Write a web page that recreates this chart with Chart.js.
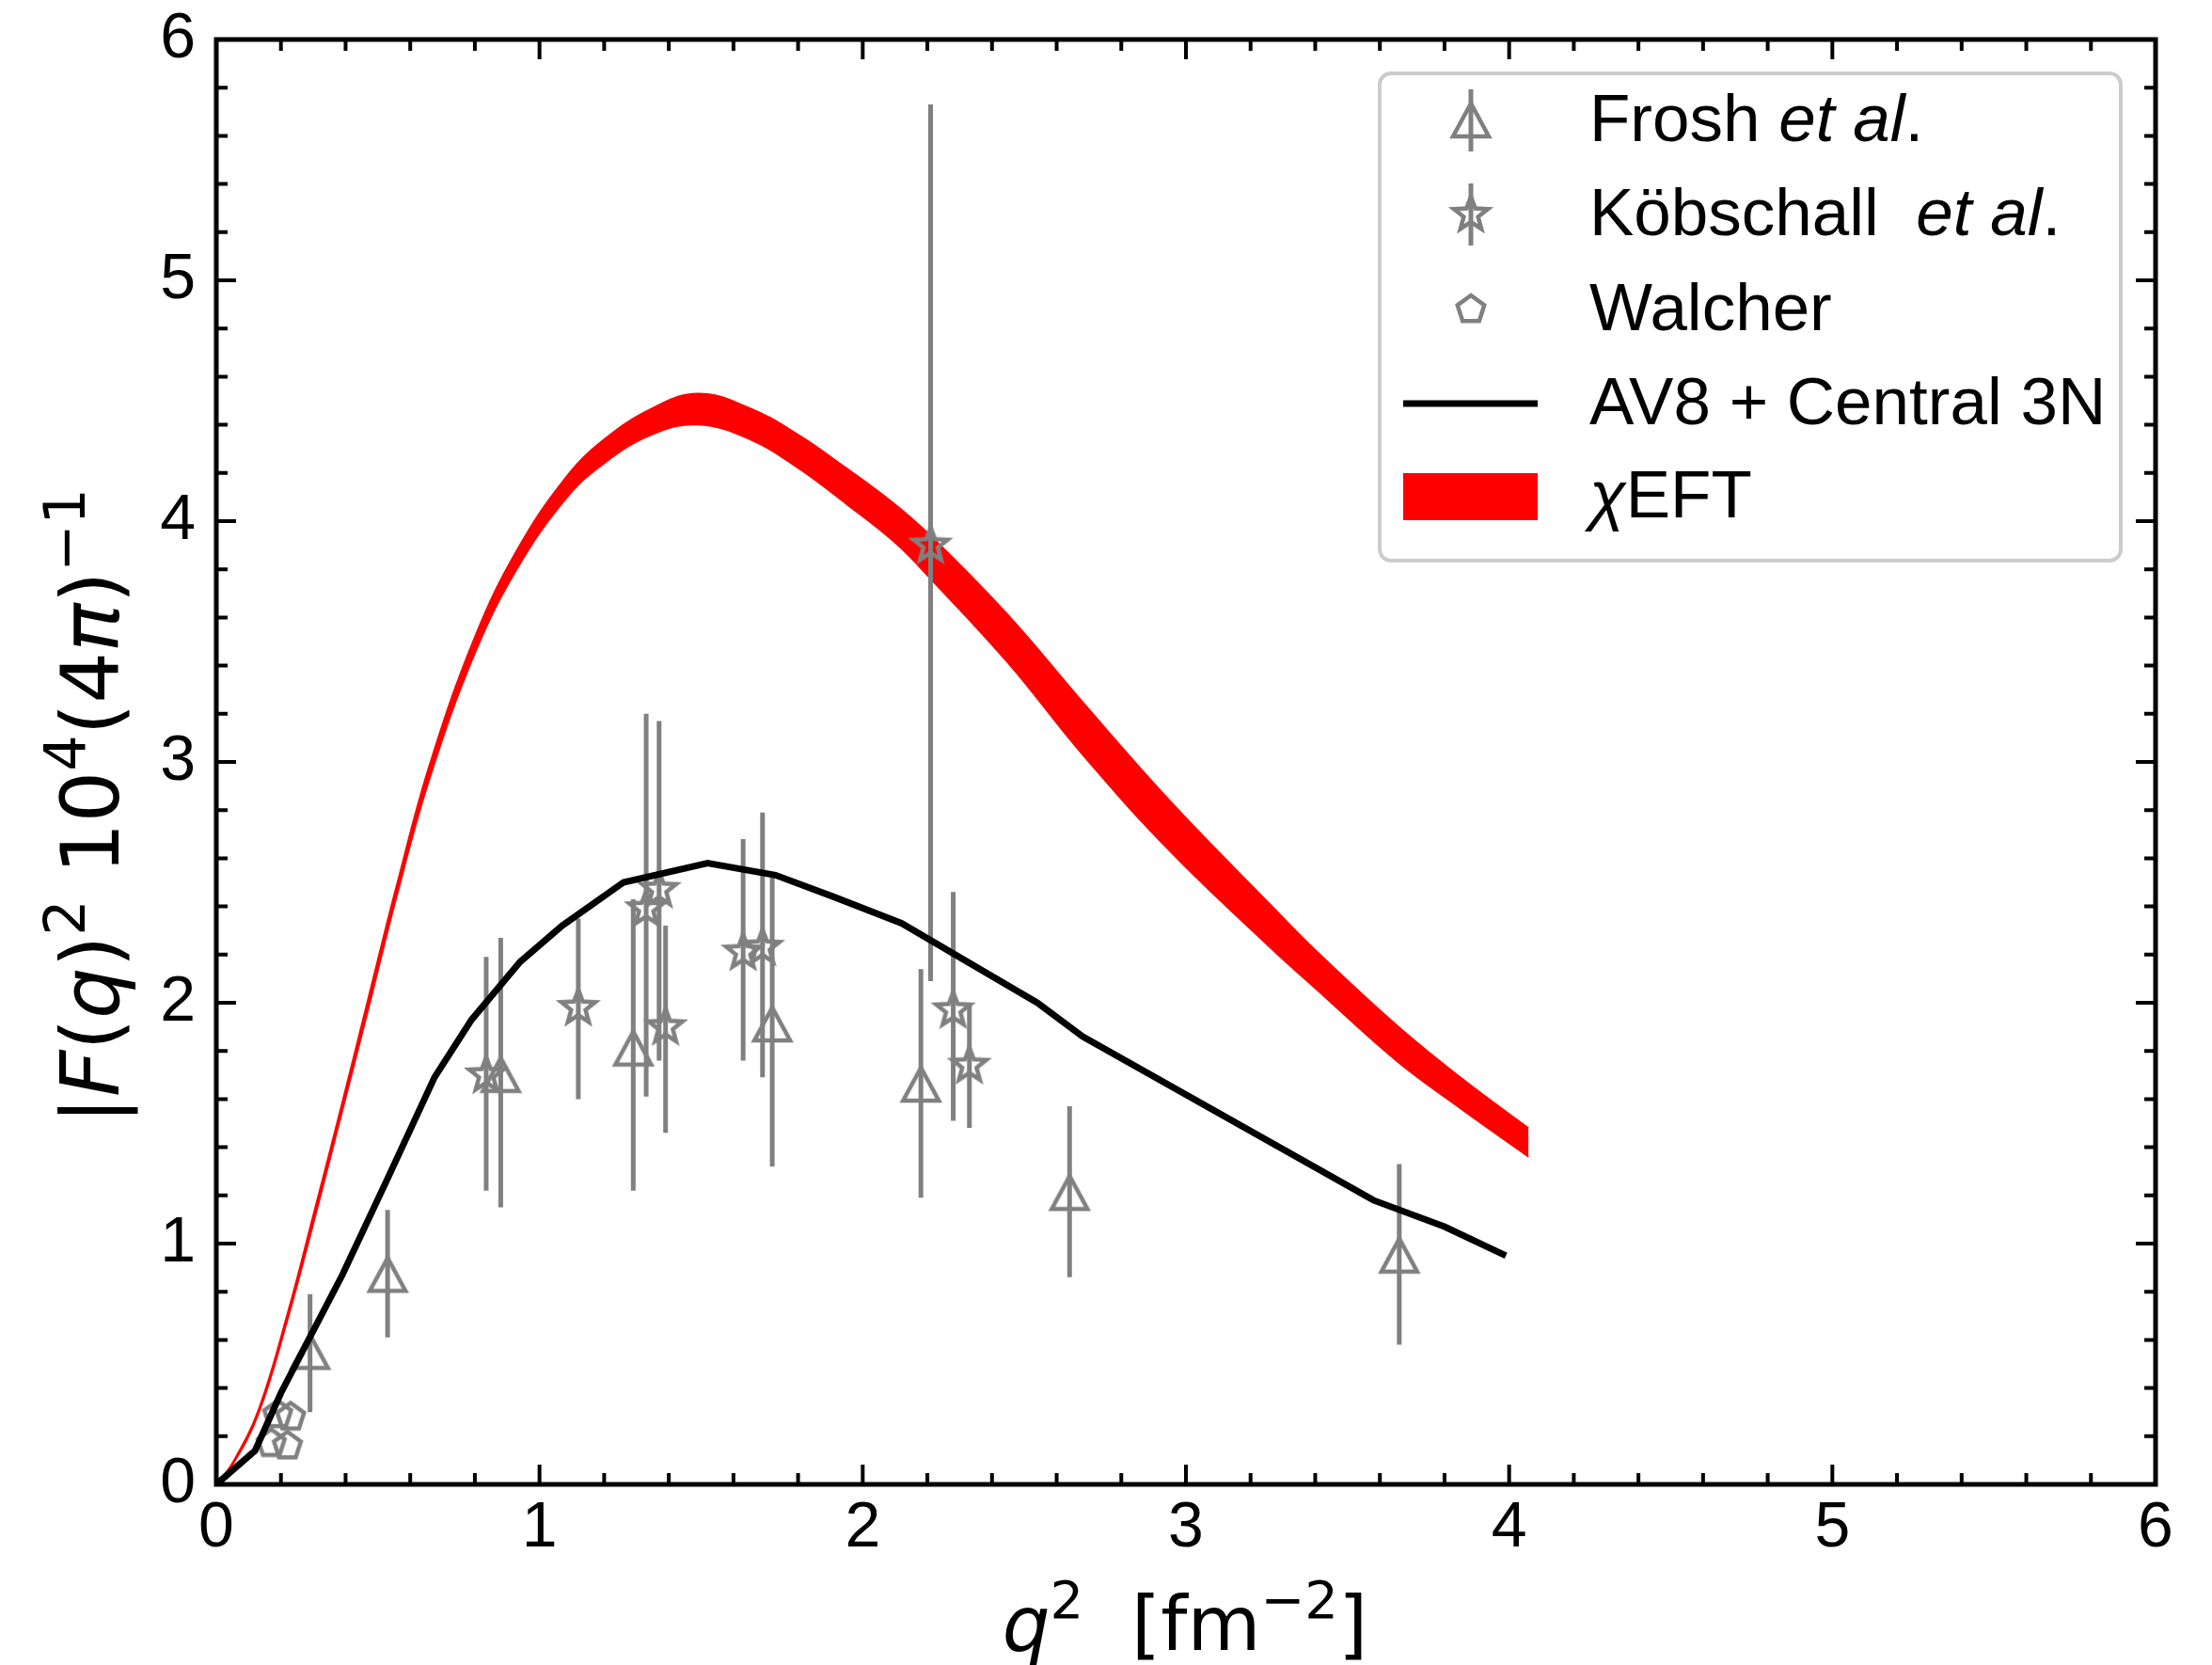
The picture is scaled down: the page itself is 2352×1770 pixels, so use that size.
<!DOCTYPE html>
<html>
<head>
<meta charset="utf-8">
<script src="https://cdn.jsdelivr.net/npm/chart.js@4.4.1/dist/chart.umd.min.js"></script>
<style>
  html, body { margin: 0; padding: 0; background: #fff; }
  #wrap { width: 2352px; height: 1770px; position: relative; }
</style>
</head>
<body>
<div id="wrap"><canvas id="formFactor"></canvas></div>
<script>
// --- data ---
const xTickVals = [0, 1, 2, 3, 4, 5, 6];
const yTickVals = [0, 1, 2, 3, 4, 5, 6];

// chiEFT band (lower / upper edge)
const qBand    = [0, 0.05, 0.13, 0.22, 0.30, 0.39, 0.47, 0.56, 0.66, 0.80, 0.93, 1.08, 1.20, 1.35, 1.49, 1.65, 1.80, 1.95, 2.10, 2.21, 2.45, 2.68, 2.95, 3.26, 3.40, 3.65, 3.85, 4.06];
const bandLow  = [0, 0.08, 0.29, 0.68, 1.08, 1.55, 1.97, 2.45, 2.93, 3.45, 3.80, 4.09, 4.24, 4.36, 4.40, 4.34, 4.22, 4.07, 3.91, 3.76, 3.41, 3.03, 2.63, 2.23, 2.06, 1.76, 1.56, 1.36];
const bandHigh = [0, 0.09, 0.31, 0.71, 1.12, 1.59, 2.02, 2.50, 2.99, 3.52, 3.88, 4.18, 4.34, 4.47, 4.53, 4.47, 4.36, 4.22, 4.07, 3.94, 3.61, 3.25, 2.84, 2.41, 2.22, 1.91, 1.69, 1.48];

// AV8 + Central 3N
const qAV8 = [0, 0.12, 0.20, 0.39, 0.53, 0.675, 0.79, 0.94, 1.07, 1.26, 1.52, 1.73, 1.91, 2.12, 2.54, 2.68, 3.58, 3.80, 3.99];
const fAV8 = [0, 0.14, 0.38, 0.87, 1.27, 1.69, 1.93, 2.17, 2.32, 2.50, 2.58, 2.53, 2.44, 2.33, 2.00, 1.86, 1.18, 1.07, 0.95];

// Frosh et al.
const froshQ  = [0.29, 0.53, 0.88, 1.29, 1.72, 2.18, 2.64, 3.66];
const froshF  = [0.55, 0.87, 1.70, 1.81, 1.91, 1.66, 1.21, 0.95];
const froshLo = [0.30, 0.61, 1.15, 1.22, 1.32, 1.19, 0.86, 0.58];
const froshHi = [0.79, 1.14, 2.27, 2.43, 2.52, 2.14, 1.57, 1.33];

// Koebschall et al.
const kobQ  = [0.835, 1.12, 1.33, 1.37, 1.39, 1.63, 1.69, 2.21, 2.28, 2.33];
const kobF  = [1.70, 1.98, 2.39, 2.47, 1.90, 2.21, 2.23, 3.90, 1.97, 1.74];
const kobLo = [1.22, 1.60, 1.61, 1.76, 1.46, 1.76, 1.69, 2.09, 1.51, 1.48];
const kobHi = [2.19, 2.35, 3.20, 3.17, 2.32, 2.68, 2.79, 5.73, 2.46, 2.00];

// Walcher
const walQ = [0.19, 0.23, 0.17, 0.22];
const walF = [0.29, 0.28, 0.17, 0.16];

const GRAY = '#808080';
const pts = (xs, ys) => xs.map((x, i) => ({ x: x, y: ys[i] }));

// open marker glyphs (matplotlib style ^, *, p)
function makeMarker(kind) {
    const c = document.createElement('canvas');
    c.width = c.height = 56;
    const g = c.getContext('2d');
    g.translate(28, 28);
    g.strokeStyle = GRAY;
    g.lineWidth = 4.5;
    g.lineJoin = 'miter';
    g.beginPath();
    if (kind === 'tri') {
        g.moveTo(0, -18); g.lineTo(-19, 17); g.lineTo(19, 17);
    } else if (kind === 'star') {
        for (let i = 0; i < 10; i++) {
            const r = i % 2 === 0 ? 19 : 8;
            const a = -Math.PI / 2 + i * Math.PI / 5;
            g.lineTo(r * Math.cos(a), r * Math.sin(a));
        }
    } else {
        for (let i = 0; i < 5; i++) {
            const a = -Math.PI / 2 + i * 2 * Math.PI / 5;
            g.lineTo(15 * Math.cos(a), 15 * Math.sin(a));
        }
    }
    g.closePath();
    g.stroke();
    return c;
}
const triMark = makeMarker('tri');
const starMark = makeMarker('star');
const pentMark = makeMarker('pent');

// rich text: segments {t, it, sup}
function richWidth(ctx, segs, size, family) {
    let w = 0;
    segs.forEach(s => {
        const fs = s.sup ? size * 0.7 : size;
        ctx.font = (s.it ? 'italic ' : '') + fs + 'px ' + family;
        w += ctx.measureText(s.t).width;
    });
    return w;
}
function drawRich(ctx, segs, x, y, size, family) {
    let cx = x;
    segs.forEach(s => {
        const fs = s.sup ? size * 0.7 : size;
        ctx.font = (s.it ? 'italic ' : '') + fs + 'px ' + family;
        ctx.fillText(s.t, cx, s.sup ? y - size * 0.42 : y);
        cx += ctx.measureText(s.t).width;
    });
}

const MATH = '"DejaVu Sans"';
const SANS = '"Liberation Sans", Arial, sans-serif';

const decor = {
    id: 'decor',
    beforeDatasetDraw(chart, args) {
        const ds = chart.data.datasets[args.index];
        if (!ds.errLo) return;
        const xs = chart.scales.x, ys = chart.scales.y, ctx = chart.ctx, a = chart.chartArea;
        ctx.save();
        ctx.beginPath();
        ctx.rect(a.left, a.top, a.right - a.left, a.bottom - a.top);
        ctx.clip();
        ctx.strokeStyle = GRAY;
        ctx.lineWidth = 5;
        ds.data.forEach((p, i) => {
            const px = xs.getPixelForValue(p.x);
            ctx.beginPath();
            ctx.moveTo(px, ys.getPixelForValue(ds.errLo[i]));
            ctx.lineTo(px, ys.getPixelForValue(ds.errHi[i]));
            ctx.stroke();
        });
        ctx.restore();
    },
    afterDraw(chart) {
        const ctx = chart.ctx, a = chart.chartArea;
        const xs = chart.scales.x, ys = chart.scales.y;
        ctx.save();
        // inward ticks on all four sides
        ctx.strokeStyle = '#000';
        ctx.lineWidth = 4;
        for (let i = 0; i <= 30; i++) {
            const v = i / 5, len = i % 5 === 0 ? 21 : 12;
            const px = xs.getPixelForValue(v), py = ys.getPixelForValue(v);
            ctx.beginPath();
            ctx.moveTo(px, a.bottom); ctx.lineTo(px, a.bottom - len);
            ctx.moveTo(px, a.top); ctx.lineTo(px, a.top + len);
            ctx.moveTo(a.left, py); ctx.lineTo(a.left + len, py);
            ctx.moveTo(a.right, py); ctx.lineTo(a.right - len, py);
            ctx.stroke();
        }
        ctx.lineWidth = 5;
        ctx.strokeRect(a.left, a.top, a.right - a.left, a.bottom - a.top);

        // legend
        const bx = 1467, by = 78, bw = 788, bh = 518;
        ctx.beginPath();
        ctx.roundRect(bx, by, bw, bh, 12);
        ctx.fillStyle = 'rgba(255,255,255,0.85)';
        ctx.fill();
        ctx.strokeStyle = '#cccccc';
        ctx.lineWidth = 4;
        ctx.stroke();

        const rows = [128, 228, 329, 429, 528];
        const mx = 1564;
        ctx.strokeStyle = GRAY;
        ctx.lineWidth = 5;
        [0, 1].forEach(r => {
            ctx.beginPath();
            ctx.moveTo(mx, rows[r] - 33); ctx.lineTo(mx, rows[r] + 33);
            ctx.stroke();
        });
        ctx.drawImage(triMark, mx - 28, rows[0] - 28);
        ctx.drawImage(starMark, mx - 28, rows[1] - 28);
        ctx.drawImage(pentMark, mx - 28, rows[2] - 28);
        ctx.strokeStyle = '#000';
        ctx.lineWidth = 7;
        ctx.beginPath();
        ctx.moveTo(1492, rows[3]); ctx.lineTo(1635, rows[3]);
        ctx.stroke();
        ctx.fillStyle = '#ff0000';
        ctx.fillRect(1492, rows[4] - 25, 143, 50);

        ctx.fillStyle = '#000';
        ctx.textBaseline = 'middle';
        ctx.textAlign = 'left';
        const labels = [
            [{ t: 'Frosh ' }, { t: 'et al', it: true }, { t: '.' }],
            [{ t: 'Köbschall  ' }, { t: 'et al', it: true }, { t: '.' }],
            [{ t: 'Walcher' }],
            [{ t: 'AV8 + Central 3N' }],
            [{ t: 'χ', it: true }, { t: 'EFT' }]
        ];
        labels.forEach((segs, r) => drawRich(ctx, segs, 1690, rows[r] + 2, 71, SANS));

        // axis titles
        ctx.textBaseline = 'alphabetic';
        const xTitle = [{ t: 'q', it: true }, { t: '2', sup: true }, { t: '  [fm' }, { t: '−2', sup: true }, { t: ']' }];
        const xw = richWidth(ctx, xTitle, 80, MATH);
        drawRich(ctx, xTitle, 1260 - xw / 2, 1754, 80, MATH);

        const yTitle = [{ t: '|' }, { t: 'F', it: true }, { t: '(' }, { t: 'q', it: true }, { t: ')' },
            { t: '2', sup: true }, { t: ' 10' }, { t: '4', sup: true }, { t: '(4' }, { t: 'π', it: true },
            { t: ')' }, { t: '−1', sup: true }];
        const yw = richWidth(ctx, yTitle, 86, MATH);
        ctx.translate(126, 857);
        ctx.rotate(-Math.PI / 2);
        drawRich(ctx, yTitle, -yw / 2, 0, 86, MATH);
        ctx.restore();
    }
};

new Chart(document.getElementById('formFactor'), {
    type: 'line',
    data: {
        datasets: [
            {
                label: 'χEFT low',
                data: pts(qBand, bandLow),
                borderColor: '#ff0000',
                borderWidth: 1.5,
                pointRadius: 0,
                tension: 0.4,
                fill: false,
                order: 10
            },
            {
                label: 'χEFT',
                data: pts(qBand, bandHigh),
                borderColor: '#ff0000',
                borderWidth: 1.5,
                backgroundColor: '#ff0000',
                pointRadius: 0,
                tension: 0.4,
                fill: '-1',
                order: 10
            },
            {
                label: 'Frosh et al.',
                data: pts(froshQ, froshF),
                errLo: froshLo,
                errHi: froshHi,
                showLine: false,
                pointStyle: triMark,
                order: 5
            },
            {
                label: 'Köbschall et al.',
                data: pts(kobQ, kobF),
                errLo: kobLo,
                errHi: kobHi,
                showLine: false,
                pointStyle: starMark,
                order: 4
            },
            {
                label: 'Walcher',
                data: pts(walQ, walF),
                showLine: false,
                pointStyle: pentMark,
                order: 3
            },
            {
                label: 'AV8 + Central 3N',
                data: pts(qAV8, fAV8),
                borderColor: '#000',
                borderWidth: 7,
                pointRadius: 0,
                tension: 0,
                fill: false,
                order: 0
            }
        ]
    },
    options: {
        responsive: true,
        maintainAspectRatio: false,
        devicePixelRatio: 1,
        animation: false,
        layout: { padding: { top: 42, right: 60, left: 0, bottom: 0 } },
        plugins: { legend: { display: false }, tooltip: { enabled: false } },
        scales: {
            x: {
                type: 'linear',
                min: 0, max: 6,
                afterFit: s => { s.height = 192; },
                afterBuildTicks: s => { s.ticks = xTickVals.map(v => ({ value: v })); },
                grid: { display: false, drawTicks: false },
                border: { display: false },
                ticks: { color: '#000', padding: 6, font: { family: SANS, size: 68 }, maxRotation: 0 }
            },
            y: {
                type: 'linear',
                min: 0, max: 6,
                afterFit: s => { s.width = 230; },
                afterBuildTicks: s => { s.ticks = yTickVals.map(v => ({ value: v })); },
                grid: { display: false, drawTicks: false },
                border: { display: false },
                ticks: { color: '#000', padding: 22, font: { family: SANS, size: 68, lineHeight: 0.5 } }
            }
        }
    },
    plugins: [decor]
});
</script>
</body>
</html>
